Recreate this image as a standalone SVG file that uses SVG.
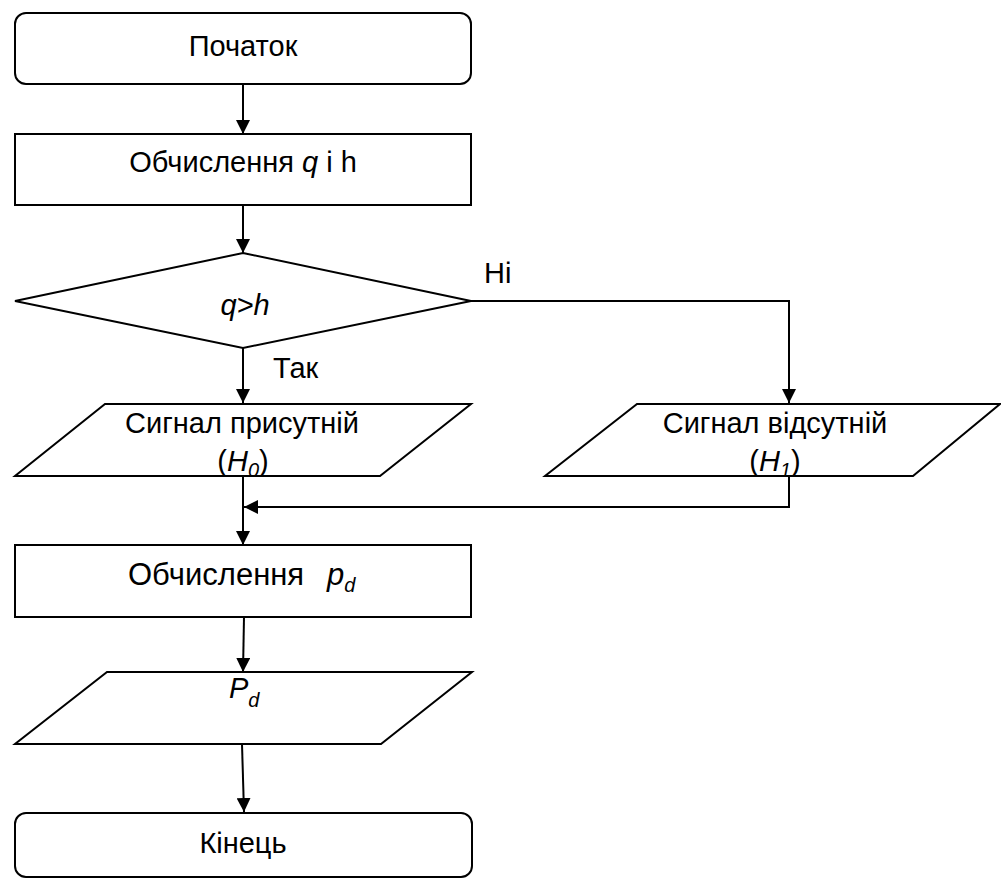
<svg xmlns="http://www.w3.org/2000/svg" width="1001" height="880" viewBox="0 0 1001 880">
<style>
.s{fill:#fff;stroke:#000;stroke-width:2}
.c{fill:none;stroke:#000;stroke-width:2}
text{font-family:"Liberation Sans",Arial,sans-serif;font-size:29px;fill:#000}
.m{text-anchor:middle}
.i{font-style:italic}
.sub{font-size:20px;font-style:italic}
.big{font-size:31px}
</style>
<defs>
<marker id="a" viewBox="0 0 14 14" refX="14" refY="7" markerWidth="14" markerHeight="14" markerUnits="userSpaceOnUse" orient="auto">
<path d="M0,0 L14,7 L0,14 Z" fill="#000"/>
</marker>
</defs>
<g id="connectors">
<line class="c" x1="243" y1="84" x2="243" y2="134" marker-end="url(#a)"/>
<line class="c" x1="243" y1="205" x2="243" y2="253" marker-end="url(#a)"/>
<polyline class="c" points="471,301 789,301 789,403" marker-end="url(#a)"/>
<line class="c" x1="243" y1="348" x2="243" y2="403" marker-end="url(#a)"/>
<polyline class="c" points="789,476 789,507 244,507" marker-end="url(#a)"/>
<line class="c" x1="243" y1="476" x2="243" y2="545" marker-end="url(#a)"/>
<line class="c" x1="244" y1="617" x2="243" y2="672" marker-end="url(#a)"/>
<line class="c" x1="242" y1="744" x2="244" y2="812" marker-end="url(#a)"/>
<text x="484" y="283">Ні</text>
<text x="273" y="378">Так</text>
</g>
<g id="start">
<rect class="s" x="15" y="13" width="456" height="71" rx="11"/>
<text class="m" x="243" y="56">Початок</text>
</g>
<g id="calc1">
<rect class="s" x="15" y="134" width="456" height="71"/>
<text class="m" x="243" y="172">Обчислення <tspan class="i">q</tspan> і h</text>
</g>
<g id="decision">
<polygon class="s" points="243,253 471,301 243,348 15,301"/>
<text class="m i" x="245" y="315">q&gt;h</text>
</g>
<g id="present">
<polygon class="s" points="105,404 471,404 380,476 15,476"/>
<text class="m" x="242" y="433">Сигнал присутній</text>
<text class="m" x="243" y="471">(<tspan class="i">H</tspan><tspan class="sub" dy="6">0</tspan><tspan dy="-6">)</tspan></text>
</g>
<g id="absent">
<polygon class="s" points="637,404 1000,404 913,476 545,476"/>
<text class="m" x="775" y="433">Сигнал відсутній</text>
<text class="m" x="775" y="471">(<tspan class="i">H</tspan><tspan class="sub" dy="6">1</tspan><tspan dy="-6">)</tspan></text>
</g>
<g id="calc2">
<rect class="s" x="15" y="545" width="456" height="72"/>
<text class="big" x="128" y="585">Обчислення <tspan class="i" x="327">p</tspan><tspan class="sub" dy="7">d</tspan></text>
</g>
<g id="output">
<polygon class="s" points="107,672 472,672 381,744 15,744"/>
<text x="229" y="698"><tspan class="i">P</tspan><tspan class="sub" dy="9">d</tspan></text>
</g>
<g id="end">
<rect class="s" x="15" y="813" width="457" height="64" rx="11"/>
<text class="m" x="243" y="853">Кінець</text>
</g>
</svg>
